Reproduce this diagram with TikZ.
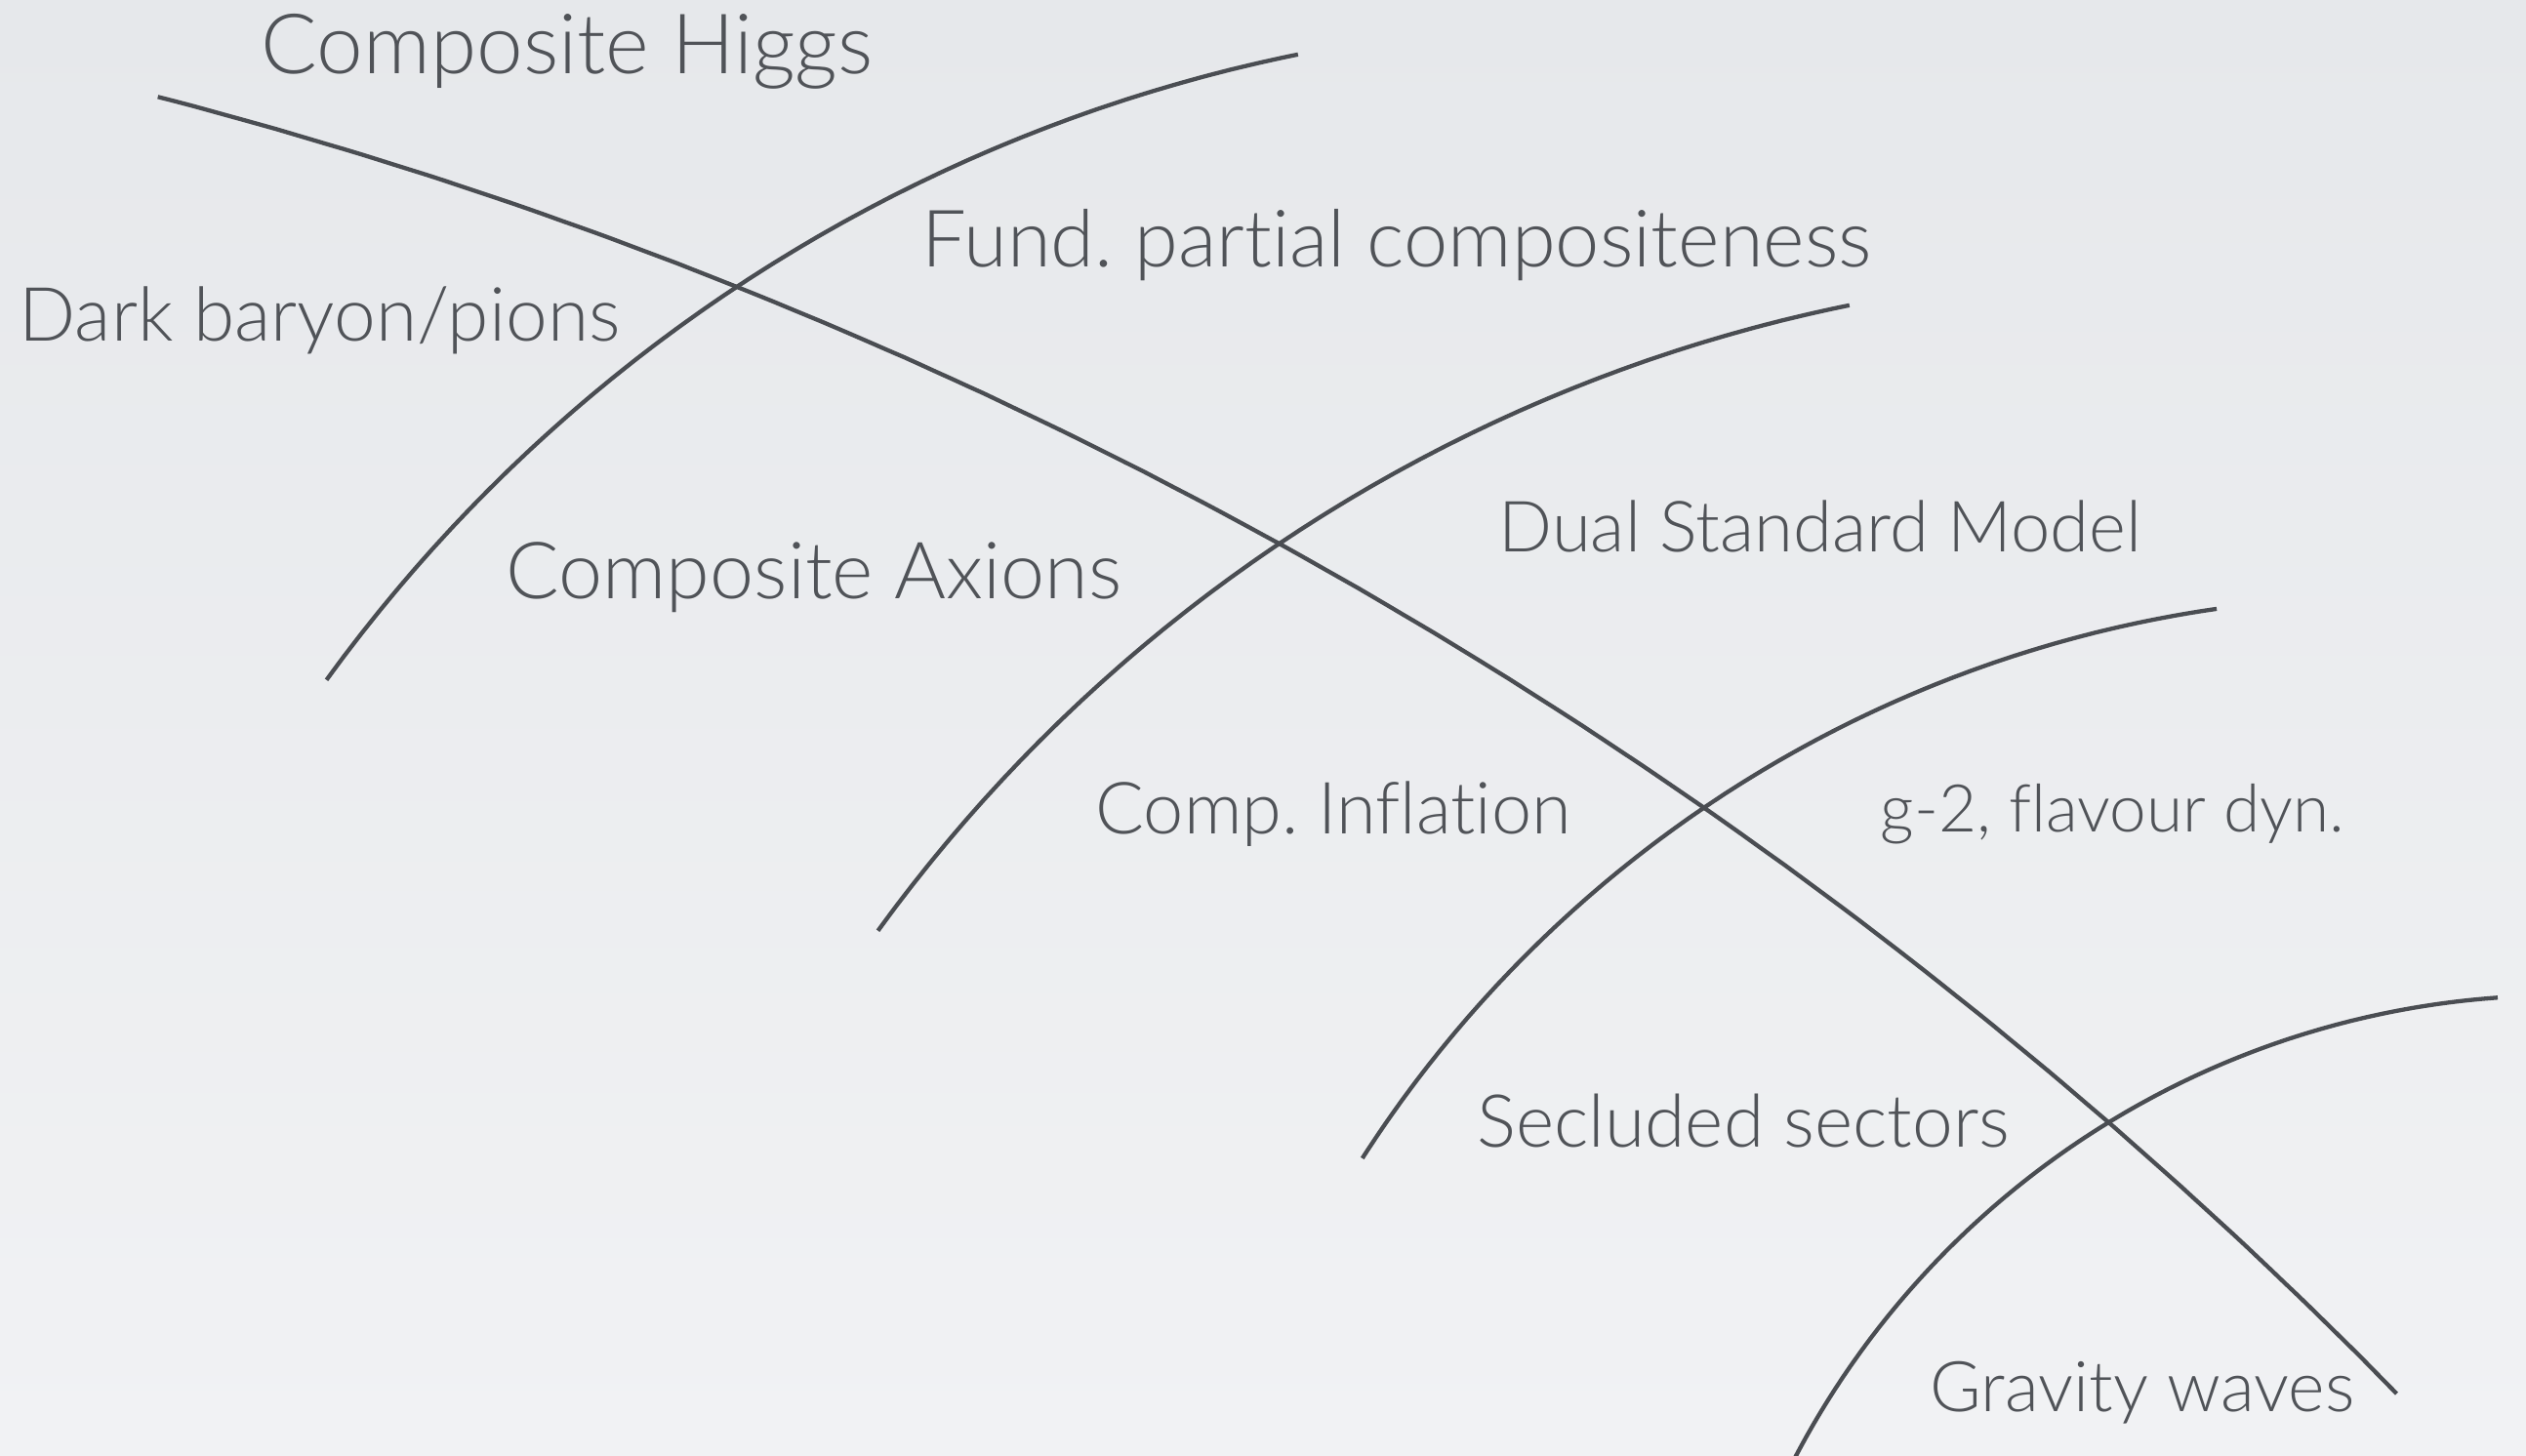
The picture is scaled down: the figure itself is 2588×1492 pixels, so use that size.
\documentclass[tikz,border=0pt]{standalone}
\usepackage{fontspec}
\setmainfont{Lato Light}[Ligatures=NoCommon]
\frenchspacing
\begin{document}
\begin{tikzpicture}[x=0.01cm,y=-0.01cm]
  \definecolor{bgtop}{HTML}{E6E8EB}
  \definecolor{bgbot}{HTML}{F1F2F4}
  \definecolor{ink}{HTML}{4A4D52}
  \definecolor{txt}{HTML}{505358}
  \newcommand\fsz[1]{\fontsize{#1}{1.2\dimexpr#1\relax}\selectfont}
  \tikzset{
    curve/.style={draw=ink, line width=1.22pt},
    lbl/.style={anchor=base west, inner sep=0pt, text=txt},
  }
  \useasboundingbox (0,0) rectangle (2588,1492);
  \shade[top color=bgtop, bottom color=bgbot] (0,0) rectangle (2588,1492);

  \begin{scope}
    \clip (0,0) rectangle (2588,1492);
    % long descending curve
    \draw[curve] plot[domain=-75.44:-44.39, samples=150]
      ({-1083+4952*cos(\x)},{4892+4952*sin(\x)});
    % four rising arcs
    \draw[curve] plot[domain=-144.06:-101.5, samples=120]
      ({1655+1631*cos(\x)},{1654+1631*sin(\x)});
    \draw[curve] plot[domain=-144.06:-101.5, samples=120]
      ({2220+1631*cos(\x)},{1911+1631*sin(\x)});
    \draw[curve] plot[domain=-147.29:-98.21, samples=120]
      ({2450+1253*cos(\x)},{1864+1253*sin(\x)});
    \draw[curve] plot[domain=-156:-94.09, samples=120]
      ({2622+884*cos(\x)},{1904+884*sin(\x)});
  \end{scope}

  \node[lbl, font=\fsz{24.3pt}] (higgs)  at (267,76)   {Composite Higgs};
  \node[lbl, font=\fsz{23.1pt}] (fpc)    at (944,274)  {Fund. partial compositeness};
  \node[lbl, font=\fsz{21.8pt}] (dark)   at (19,350)   {Dark baryon/pions};
  \node[lbl, font=\fsz{23pt}]   (axions) at (518,614)  {Composite Axions};
  \node[lbl, font=\fsz{20.6pt}] (dualsm) at (1535,566) {Dual Standard Model};
  \node[lbl, font=\fsz{21pt}]   (infl)   at (1122,855) {Comp. Inflation};
  \node[lbl, font=\fsz{19.2pt}] (gmtwo)  at (1926,853) {g-2, flavour dyn.};
  \node[lbl, font=\fsz{21.3pt}] (seclu)  at (1513,1175){Secluded sectors};
  \node[lbl, font=\fsz{20.4pt}] (gw)     at (1977,1446){Gravity waves};
\end{tikzpicture}
\end{document}
